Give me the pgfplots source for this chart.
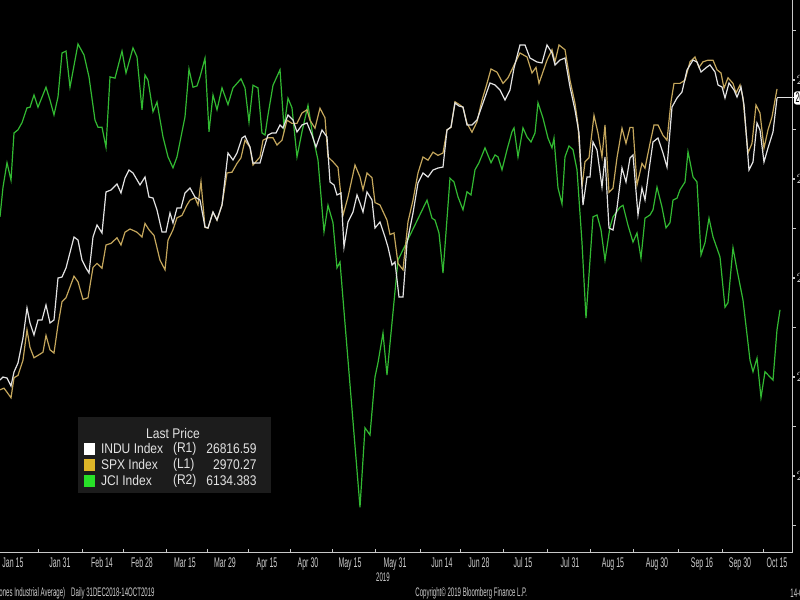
\documentclass[border=0pt]{standalone}
\usepackage{pgfplots}
\pgfplotsset{compat=1.18}
\usepackage{fontspec}
\setmainfont{Liberation Sans}
\newfontfamily\narrowfont{Liberation Sans}[FakeStretch=0.5]
\newfontfamily\footfont{Liberation Sans}[FakeStretch=0.49]
\newfontfamily\legfont{Liberation Sans}[FakeStretch=0.86]

\definecolor{induc}{RGB}{226,226,226}
\definecolor{spxc}{RGB}{196,166,92}
\definecolor{jcic}{RGB}{50,185,50}
\definecolor{axisgray}{RGB}{200,200,200}
\definecolor{lblgray}{RGB}{205,205,205}
\definecolor{legbg}{RGB}{28,28,28}
\definecolor{swgold}{RGB}{222,182,40}
\definecolor{swgreen}{RGB}{40,225,40}

\pgfplotsset{
  base/.style={scale only axis, width=396pt, height=276.5pt,
    at={(0pt,23.5pt)}, anchor=south west, xmin=0, xmax=792, clip=true},
  hidden/.style={base, hide axis},
}

\begin{document}
\begin{tikzpicture}
\path[use as bounding box] (0,0) rectangle (400pt,300pt);
\clip (0,0) rectangle (400pt,300pt);
\fill[black] (0,0) rectangle (400pt,300pt);

% JCI (R2)
\begin{axis}[hidden, ymin=5758.05, ymax=6615.2]
\addplot[jcic, line width=0.6pt] coordinates {
(0,6279)(3,6325)(7,6363)(11,6336)(14,6409)(18,6414)(22,6425)(27,6448)(30,6449)(34,6468)
(38,6449)(46,6480)(50,6460)(54,6437)(58,6465)(62,6533)(66,6536)(70,6480)(78,6547)(84,6530)
(89,6496)(95,6429)(98,6418)(102,6418)(106,6387)(110,6496)(115,6494)(122,6536)(126,6502)(133,6541)
(137,6527)(142,6445)(145,6499)(148,6491)(153,6442)(157,6457)(163,6403)(168,6372)(173,6355)(177,6372)
(185,6434)(189,6508)(193,6480)(197,6482)(200,6496)(205,6525)(209,6411)(213,6468)(217,6445)(222,6479)
(228,6453)(233,6479)(241,6493)(245,6479)(249,6426)(253,6483)(258,6479)(262,6409)(265,6406)(268,6437)
(273,6483)(280,6507)(284,6417)(288,6463)(292,6448)(297,6372)(302,6411)(308,6452)(313,6403)(318,6367)
(324,6256)(328,6297)(333,6270)(337,6200)(340,6209)(360,5829)(365,5952)(370,5941)(375,6031)(378,6053)
(383,6099)(387,6034)(398,6212)(427,6305)(432,6277)(435,6274)(439,6254)(443,6192)(450,6339)(454,6333)
(458,6310)(463,6290)(467,6318)(471,6313)(475,6352)(479,6363)(485,6386)(491,6363)(495,6375)(498,6372)
(502,6352)(507,6383)(512,6411)(514,6417)(518,6372)(523,6417)(527,6403)(531,6395)(535,6409)(538,6456)
(543,6432)(548,6401)(552,6386)(554,6401)(558,6324)(562,6299)(565,6372)(569,6389)(573,6383)(577,6352)
(582,6239)(586,6122)(593,6279)(597,6282)(601,6259)(605,6212)(610,6263)(613,6279)(620,6294)(623,6297)
(628,6266)(633,6240)(637,6254)(641,6215)(645,6277)(650,6282)(653,6290)(657,6325)(662,6294)(666,6262)
(670,6270)(673,6305)(677,6308)(680,6321)(685,6333)(688,6380)(693,6341)(697,6333)(701,6220)(705,6239)
(709,6277)(713,6248)(720,6217)(725,6139)(728,6146)(733,6231)(737,6197)(743,6150)(750,6057)(753,6039)
(757,6060)(761,5999)(765,6039)(773,6026)(777,6104)(780,6135)
};
\end{axis}

% SPX (L1)
\begin{axis}[hidden, ymin=2390, ymax=3081.25]
\addplot[spxc, line width=0.6pt] coordinates {
(0,2594)(4,2596)(7,2591)(11,2584)(14,2609)(18,2612)(23,2631)(27,2669)(30,2647)(34,2634)
(38,2637)(43,2641)(46,2662)(50,2644)(54,2640)(58,2675)(62,2704)(66,2709)(74,2736)(78,2729)
(83,2707)(88,2709)(93,2747)(97,2752)(102,2746)(106,2775)(111,2777)(117,2784)(121,2775)(125,2791)
(130,2795)(137,2791)(142,2785)(145,2802)(149,2794)(154,2787)(160,2756)(165,2744)(168,2781)(173,2794)
(177,2809)(182,2812)(187,2825)(190,2831)(195,2834)(198,2825)(201,2854)(205,2797)(208,2796)(213,2816)
(217,2806)(222,2825)(227,2865)(232,2866)(237,2877)(241,2884)(245,2906)(250,2897)(253,2875)(260,2885)
(263,2906)(268,2909)(273,2909)(277,2900)(282,2906)(287,2931)(292,2927)(297,2927)(302,2940)(307,2944)
(310,2931)(315,2921)(320,2946)(325,2934)(328,2885)(333,2879)(338,2872)(343,2812)(348,2835)(355,2875)
(360,2860)(363,2844)(367,2865)(372,2859)(375,2828)(380,2825)(387,2806)(390,2788)(394,2790)(398,2752)
(403,2744)(408,2804)(413,2831)(418,2865)(423,2885)(428,2881)(433,2891)(438,2887)(443,2890)(447,2919)
(451,2922)(455,2954)(460,2950)(463,2947)(467,2927)(472,2916)(477,2929)(482,2956)(487,2977)(491,2995)
(497,2991)(503,2977)(508,2984)(513,2997)(520,3015)(527,3010)(532,2990)(536,2997)(539,2977)(547,3006)
(552,3019)(555,3004)(559,3025)(565,3019)(570,2981)(575,2952)(578,2925)(582,2848)(585,2879)(589,2884)
(594,2937)(598,2915)(602,2885)(605,2925)(609,2841)(613,2846)(617,2884)(622,2921)(626,2902)(630,2922)
(633,2922)(637,2850)(642,2877)(645,2871)(650,2902)(654,2925)(658,2925)(663,2912)(667,2906)(671,2954)
(674,2977)(680,2977)(685,2981)(690,3004)(695,3010)(699,2997)(703,3004)(708,3006)(713,3006)(717,2994)
(721,2990)(724,2971)(728,2984)(733,2977)(736,2965)(740,2975)(743,2959)(748,2890)(752,2902)(756,2950)
(760,2940)(764,2896)(768,2919)(772,2935)(777,2970)
};
\end{axis}

% INDU (R1) with the visible axes
\begin{axis}[base, ymin=22222.7, ymax=27808,
  axis x line*=bottom, axis y line*=right,
  axis line style={-, draw=axisgray, line width=0.5pt},
  xtick={13,60,102,142,185,225,267,308,350,395,442,479,523,570,613,657,702,740,777},
  xticklabels={Jan 15,Jan 31,Feb 14,Feb 28,Mar 15,Mar 29,Apr 15,Apr 30,May 15,May 31,Jun 14,Jun 28,Jul 15,Jul 31,Aug 15,Aug 30,Sep 16,Sep 30,Oct 15},
  minor xtick={38,82,123,166,207,248,290,332,375,420,460,503,547,590,633,678,722,763},
  major x tick style={draw=none},
  minor x tick style={draw=axisgray, line width=0.5pt},
  xtick align=inside,
  minor tick length=2pt,
  xticklabel style={font=\narrowfont\fontsize{7}{8}\selectfont, text=lblgray, inner sep=0pt, yshift=-2pt},
  ytick={23000,24000,25000,26000,27000},
  minor ytick={22500,23500,24500,25500,26500,27500},
  ytick align=outside,
  major y tick style={draw=axisgray, line width=1.2pt},
  minor y tick style={draw=axisgray, line width=0.5pt},
  major tick length=1.5pt,
  yticklabel style={font=\narrowfont\fontsize{7}{8}\selectfont, text=lblgray, inner sep=0pt, anchor=west, xshift=0.5pt},
  /pgf/number format/1000 sep={},
]
\addplot[induc, line width=0.6pt] coordinates {
(0,23970)(3,24000)(7,23990)(11,23909)(14,24051)(18,24142)(23,24394)(27,24697)(30,24546)(34,24425)
(38,24576)(42,24576)(46,24728)(50,24546)(54,24576)(58,25000)(62,25010)(66,25101)(74,25414)(78,25384)
(82,25182)(86,25101)(89,25051)(93,25414)(97,25536)(102,25455)(106,25869)(111,25889)(117,25950)(121,25859)
(125,26010)(129,26091)(133,26061)(140,25940)(145,26020)(149,25818)(153,25808)(157,25687)(162,25465)(166,25465)
(170,25657)(173,25556)(177,25707)(181,25707)(185,25859)(190,25909)(195,25818)(200,25788)(205,25515)(208,25505)
(213,25667)(217,25586)(222,25737)(228,26263)(233,26192)(237,26263)(242,26414)(245,26434)(250,26323)(253,26162)
(260,26162)(264,26313)(268,26445)(272,26465)(276,26465)(280,26546)(283,26515)(288,26647)(293,26596)(297,26475)
(302,26546)(307,26566)(312,26445)(316,26323)(322,26495)(327,26424)(330,25970)(334,25940)(337,25839)(341,25859)
(344,25313)(348,25566)(353,25667)(357,25839)(360,25758)(363,25667)(367,25869)(372,25788)(375,25505)(380,25566)
(385,25414)(388,25313)(392,25132)(395,25162)(399,24808)(403,24808)(407,25354)(413,25657)(418,25960)(423,26061)
(428,26020)(433,26091)(438,26111)(443,26121)(447,26495)(451,26525)(455,26768)(459,26737)(463,26727)(467,26546)
(472,26546)(477,26596)(483,26768)(490,26970)(495,26950)(500,26899)(505,26798)(510,26899)(514,27121)(520,27354)
(525,27354)(530,27222)(537,27182)(542,27172)(547,27354)(552,27273)(555,27152)(560,27202)(565,27222)(570,26929)
(575,26697)(579,26465)(583,25737)(587,26020)(590,26020)(593,26374)(597,26293)(602,25919)(605,26222)(609,25505)
(613,25485)(617,25707)(622,26111)(626,25970)(630,26212)(633,26242)(638,25637)(642,25909)(645,25788)(649,26091)
(653,26374)(658,26414)(663,26263)(667,26121)(672,26727)(677,26818)(682,26879)(687,27101)(693,27202)(697,27182)
(701,27081)(707,27131)(710,27152)(715,27081)(718,26950)(722,26929)(725,26818)(729,26970)(734,26899)(737,26828)
(741,26929)(744,26748)(749,26091)(753,26172)(757,26566)(760,26495)(764,26172)(768,26313)(773,26475)(777,26817)
};
\end{axis}

% last price tag
\draw[induc, line width=0.5pt] (388.5pt,251pt) -- (397pt,251pt);
\node[fill=white, rounded corners=1.2pt, anchor=west, inner sep=0.8pt,
  font=\narrowfont\fontsize{7}{8}\selectfont, text=black] at (396.8pt,251pt) {26816.59};

% legend
\fill[legbg] (39pt,53.5pt) rectangle (135.5pt,91.5pt);
\node[text=induc, font=\legfont\fontsize{7}{8}\selectfont] at (86.5pt,83pt) {Last Price};
\fill[white] (42pt,72.7pt) rectangle (47.6pt,78.3pt);
\fill[swgold] (42pt,64.7pt) rectangle (47.6pt,70.3pt);
\fill[swgreen] (42pt,56.7pt) rectangle (47.6pt,62.3pt);
\begin{scope}[every node/.style={text=induc, font=\legfont\fontsize{7}{8}\selectfont, inner sep=0pt}]
\node[anchor=west] at (50.3pt,75.5pt) {INDU Index};
\node[anchor=west] at (50.3pt,67.5pt) {SPX Index};
\node[anchor=west] at (50.3pt,59.5pt) {JCI Index};
\node[anchor=west] at (86.3pt,75.5pt) {(R1)};
\node[anchor=west] at (86.3pt,67.5pt) {(L1)};
\node[anchor=west] at (86.3pt,59.5pt) {(R2)};
\node[anchor=east] at (128.5pt,75.5pt) {26816.59};
\node[anchor=east] at (128.5pt,67.5pt) {2970.27};
\node[anchor=east] at (128.5pt,59.5pt) {6134.383};
\end{scope}

% bottom texts
\begin{scope}[every node/.style={text=lblgray, font=\footfont\fontsize{6.2}{7}\selectfont, inner sep=0pt}]
\node at (191.5pt,11.5pt) {2019};
\node[anchor=east] at (77.5pt,3.5pt) {INDU Index (Dow Jones Industrial Average)\hspace{3pt}Daily 31DEC2018-14OCT2019};
\node[anchor=west] at (207.5pt,3.5pt) {Copyright\textcopyright{} 2019 Bloomberg Finance L.P.};
\node[anchor=west] at (395pt,3.5pt) {14-Oct-2019 17:08:41};
\end{scope}
\end{tikzpicture}
\end{document}
